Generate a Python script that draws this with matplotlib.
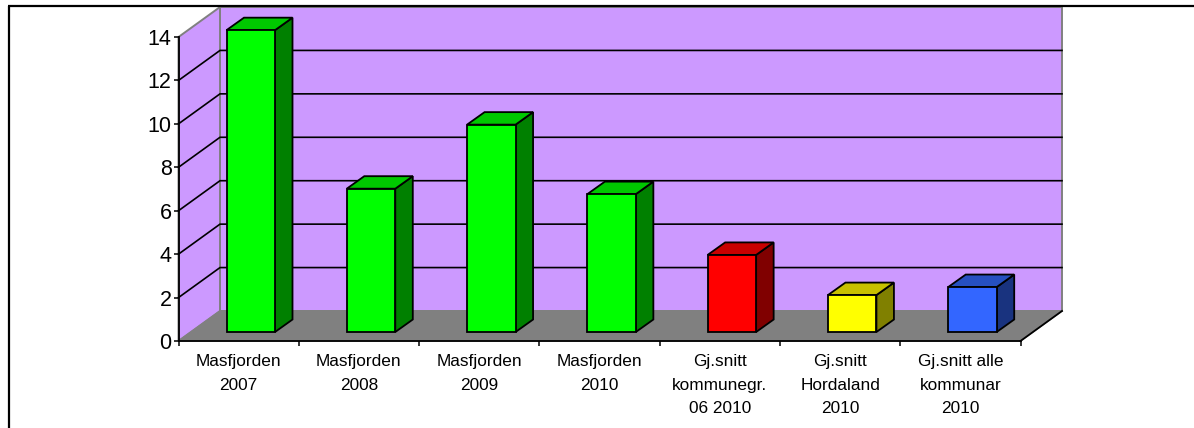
import matplotlib
matplotlib.use('Agg')
import matplotlib.pyplot as plt
from matplotlib.patches import Polygon

W, H = 1194, 428

labels = ['Masfjorden\n2007', 'Masfjorden\n2008', 'Masfjorden\n2009', 'Masfjorden\n2010',
          'Gj.snitt\nkommunegr.\n06 2010', 'Gj.snitt\nHordaland\n2010', 'Gj.snitt alle\nkommunar\n2010']
values = [13.9, 6.6, 9.55, 6.35, 3.55, 1.7, 2.07]
front_cols = ['#00ff00', '#00ff00', '#00ff00', '#00ff00', '#ff0000', '#ffff00', '#3366ff']
top_cols = ['#00c800', '#00c800', '#00c800', '#00c800', '#c80000', '#c8c000', '#2650c0']
side_cols = ['#008000', '#008000', '#008000', '#008000', '#800000', '#808000', '#19337f']
yticks = [0, 2, 4, 6, 8, 10, 12, 14]

plt.rcParams['font.family'] = ['Liberation Sans', 'DejaVu Sans']

fig = plt.figure(figsize=(W / 100, H / 100), dpi=100)
# axes box is the front plane of the chart, in pixels of the reference
x0, x1, y0, y1 = 178.5, 1020.5, 341, 37
ax = fig.add_axes([x0 / W, 1 - y0 / H, (x1 - x0) / W, (y0 - y1) / H])
ax.set_xlim(0, 7)
ax.set_ylim(0, 14)
ax.patch.set_visible(False)

# depth of the box and of the bars, in data units
dx = 41.5 / ((x1 - x0) / 7)
dy = 30 / ((y0 - y1) / 14)
bar_dx = 17.5 / ((x1 - x0) / 7)
bar_dy = 12.5 / ((y0 - y1) / 14)
off_y = 9 / ((y0 - y1) / 14)
bar_w = 48.5 / ((x1 - x0) / 7)
bar_left = 48 / ((x1 - x0) / 7)


def poly(pts, fc, ec='black', lw=1.3, z=1):
    ax.add_patch(Polygon(pts, closed=True, facecolor=fc, edgecolor=ec, linewidth=lw,
                         zorder=z, clip_on=False, joinstyle='miter'))


# walls and floor
poly([(dx, dy), (7 + dx, dy), (7 + dx, 14 + dy), (dx, 14 + dy)], '#cc99ff', ec='#808080', lw=1.4)
poly([(0, 0), (dx, dy), (dx, 14 + dy), (0, 14)], '#cc99ff', ec='#808080', lw=1.4)
poly([(0, 0), (7, 0), (7 + dx, dy), (dx, dy)], '#808080', ec='#808080', lw=1.0)

# gridlines
for t in yticks[1:-1]:
    ax.plot([0, dx, 7 + dx], [t, t + dy, t + dy], color='black', lw=1.2, zorder=2,
            clip_on=False, solid_joinstyle='miter')

# bars
for i, v in enumerate(values):
    l = i + bar_left
    r = l + bar_w
    b = off_y
    t = off_y + v
    poly([(r, b), (r + bar_dx, b + bar_dy), (r + bar_dx, t + bar_dy), (r, t)], side_cols[i], z=3)
    poly([(l, t), (r, t), (r + bar_dx, t + bar_dy), (l + bar_dx, t + bar_dy)], top_cols[i], z=3)
    poly([(l, b), (r, b), (r, t), (l, t)], front_cols[i], z=4)

# axes lines
ax.plot([7, 7 + dx], [0, dy], color='black', lw=1.3, zorder=5, clip_on=False)
for s in ['top', 'right']:
    ax.spines[s].set_visible(False)
for s in ['left', 'bottom']:
    ax.spines[s].set_linewidth(1.3)
    ax.spines[s].set_zorder(5)

ax.set_yticks(yticks)
ax.tick_params(axis='y', length=3.5, width=1.1, labelsize=15.5, pad=1.5, colors='black')
ax.set_xticks(range(8))
ax.set_xticklabels([])
ax.set_xticks([i + 0.5 for i in range(7)], labels=labels, minor=True)
ax.tick_params(axis='x', which='major', length=3.5, width=1.1)
ax.tick_params(axis='x', which='minor', length=0, labelsize=12.4, pad=9.5)
for tl in ax.get_xticklabels(minor=True):
    tl.set_linespacing(1.72)

# outer frame of the chart
fig.add_artist(plt.Line2D([9 / W, 9 / W], [0, 1 - 6 / H], color='black', lw=1.6, solid_capstyle='butt'))
fig.add_artist(plt.Line2D([8 / W, 1], [1 - 6 / H, 1 - 6 / H], color='black', lw=1.6, solid_capstyle='butt'))

fig.savefig('out.png', dpi=100)
